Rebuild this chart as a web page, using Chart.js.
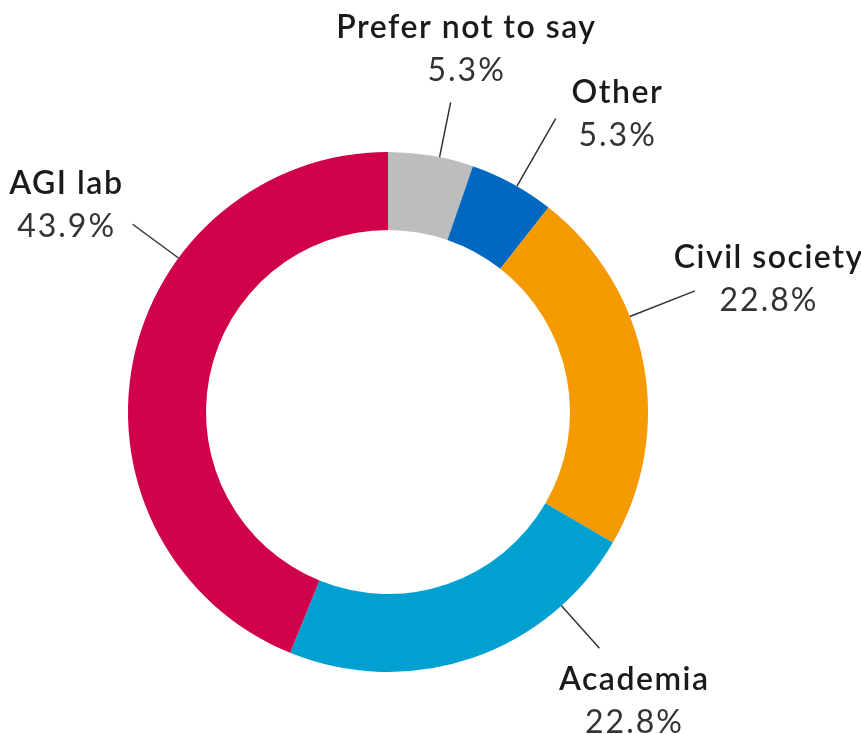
<!DOCTYPE html>
<html>
<head>
<meta charset="utf-8">
<script src="https://cdn.jsdelivr.net/npm/chart.js@4/dist/chart.umd.min.js"></script>
<style>
  html, body { margin: 0; padding: 0; background: #ffffff; }
  #wrap { width: 861px; height: 734px; }
</style>
</head>
<body>
<div id="wrap"><canvas id="chart" width="861" height="734"></canvas></div>
<script>
// Respondent affiliation, share of answers (%), clockwise from 12 o'clock
const categories = ['Prefer not to say', 'Other', 'Civil society', 'Academia', 'AGI lab'];
const shares = [5.3, 5.3, 22.8, 22.8, 43.9];
const sliceColors = ['#BDBDBD', '#0068C0', '#F59A00', '#00A0D0', '#D0004A'];

// Leader lines: where along the slice they leave the ring (0..1), how long they
// run outward, and where the two text lines sit relative to the line's end.
const callouts = [
    { at: 0.60, len: 56, dx: 15,  dy: -64 },
    { at: 0.56, len: 78, dx: 61,  dy: -16 },
    { at: 0.37, len: 70, dx: 73,  dy: -23 },
    { at: 0.22, len: 57, dx: 34,  dy: 42 },
    { at: 0.66, len: 57, dx: -67, dy: -30 },
];

const FONT = 'Lato, "Open Sans", sans-serif';
const LINE_GAP = 43;

function spacedText(ctx, text, x, y, spacing) {
    // canvas letterSpacing also pads after the last glyph; shift back half of it
    ctx.letterSpacing = spacing + 'px';
    ctx.fillText(text, x + spacing / 2, y);
    ctx.letterSpacing = '0px';
}

const calloutPlugin = {
    id: 'callouts',
    afterDatasetsDraw(chart) {
        const ctx = chart.ctx;
        const meta = chart.getDatasetMeta(0);
        meta.data.forEach((arc, i) => {
            const { x, y, startAngle, endAngle, outerRadius } =
                arc.getProps(['x', 'y', 'startAngle', 'endAngle', 'outerRadius'], true);
            const c = callouts[i];
            const a = startAngle + (endAngle - startAngle) * c.at;
            const x0 = x + Math.cos(a) * outerRadius;
            const y0 = y + Math.sin(a) * outerRadius;
            const x1 = x + Math.cos(a) * (outerRadius + c.len);
            const y1 = y + Math.sin(a) * (outerRadius + c.len);

            ctx.save();
            ctx.strokeStyle = '#333333';
            ctx.lineWidth = 1.5;
            ctx.beginPath();
            ctx.moveTo(x0, y0);
            ctx.lineTo(x1, y1);
            ctx.stroke();

            const tx = x1 + c.dx;
            const ty = y1 + c.dy;
            ctx.textAlign = 'center';
            ctx.textBaseline = 'alphabetic';
            ctx.fillStyle = '#1a1a1a';
            ctx.font = '600 32px ' + FONT;
            spacedText(ctx, categories[i], tx, ty, 1.5);
            ctx.fillStyle = '#333333';
            ctx.font = '32px ' + FONT;
            spacedText(ctx, shares[i].toFixed(1) + '%', tx, ty + LINE_GAP, 2);
            ctx.restore();
        });
    },
};

new Chart(document.getElementById('chart'), {
    type: 'doughnut',
    data: {
        labels: categories,
        datasets: [{
            data: shares,
            backgroundColor: sliceColors,
            borderWidth: 0,
            hoverOffset: 0,
            offset: 0,
        }],
    },
    options: {
        responsive: false,
        animation: false,
        cutout: '70%',
        layout: { padding: { left: 128, right: 213, top: 152, bottom: 62 } },
        plugins: {
            legend: { display: false },
            tooltip: { enabled: false },
        },
    },
    plugins: [calloutPlugin],
});
</script>
</body>
</html>
